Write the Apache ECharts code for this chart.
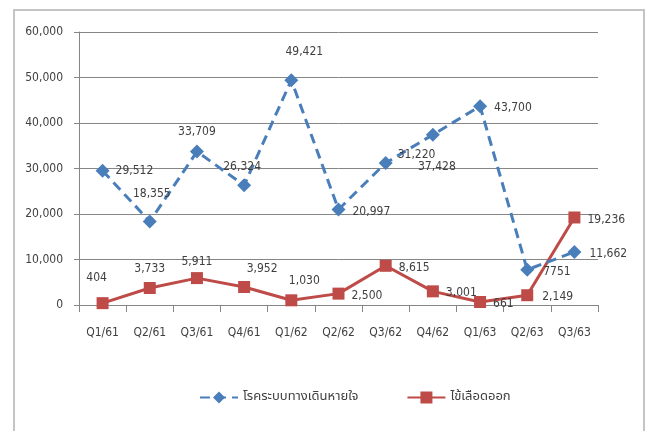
<!DOCTYPE html>
<html>
<head>
<meta charset="utf-8">
<script src="https://cdn.jsdelivr.net/npm/echarts@6/dist/echarts.min.js"></script>
<style>
    html, body { margin: 0; padding: 0; background: #fff; }
    #main { width: 649px; height: 431px; }
</style>
</head>
<body>
<div id="main"></div>
<script>
var quarters = ['Q1/61', 'Q2/61', 'Q3/61', 'Q4/61', 'Q1/62', 'Q2/62', 'Q3/62', 'Q4/62', 'Q1/63', 'Q2/63', 'Q3/63'];
var respName = 'โรคระบบทางเดินหายใจ';
var respValues = [29512, 18355, 33709, 26324, 49421, 20997, 31220, 37428, 43700, 7751, 11662];
var dengueName = 'ไข้เลือดออก';
var dengueValues = [404, 3733, 5911, 3952, 1030, 2500, 8615, 3001, 661, 2149, 19236];
var yTicks = [0, 10000, 20000, 30000, 40000, 50000, 60000];

// label placement, one per point
var respLabel = [
    {position: 'right', distance: 6},
    {position: 'top', distance: 15, offset: [2, 0]},
    {position: 'top', distance: 7},
    {position: 'top', distance: 5, offset: [-2, 0]},
    {position: 'top', distance: 15, offset: [13, 0]},
    {position: 'right', distance: 7, offset: [0, 2]},
    {position: 'right', distance: 5, offset: [0, -8]},
    {position: 'bottom', distance: 19, offset: [4, 0]},
    {position: 'right', distance: 7, offset: [0, 2]},
    {position: 'right', distance: 9, offset: [0, 2]},
    {position: 'right', distance: 8, offset: [0, 2]}
];
var dengueLabel = [
    {position: 'top', distance: 13, offset: [-6, 0]},
    {position: 'top', distance: 7},
    {position: 'top', distance: 4},
    {position: 'top', distance: 6, offset: [18, 0]},
    {position: 'top', distance: 7, offset: [13, 0]},
    {position: 'right', distance: 7, offset: [0, 2]},
    {position: 'right', distance: 7, offset: [0, 2]},
    {position: 'right', distance: 7, offset: [0, 2]},
    {position: 'right', distance: 7, offset: [0, 2]},
    {position: 'right', distance: 9, offset: [0, 2]},
    {position: 'right', distance: 7, offset: [0, 2]}
];

function fmt(v) {
    return String(v).replace(/\B(?=(\d{3})+(?!\d))/g, ',');
}

function buildData(values, labels) {
    return values.map(function (v, i) {
        var lb = {
            position: labels[i].position,
            distance: labels[i].distance,
            offset: labels[i].offset || [0, 0]
        };
        return {value: v, label: lb};
    });
}

var labelFont = {
    color: '#404040',
    fontSize: 12,
    fontFamily: 'DejaVu Sans Condensed, DejaVu Sans, sans-serif'
};

var myChart = echarts.init(document.getElementById('main'));
var option = {
    backgroundColor: '#fff',
    animation: false,
    graphic: [{
        type: 'rect',
        shape: {x: 14, y: 10, width: 630, height: 440},
        style: {fill: 'none', stroke: '#c4c4c4', lineWidth: 2},
        silent: true,
        z: -1
    }],
    grid: {
        left: 79,
        right: 51,
        top: 32,
        bottom: 126
    },
    legend: {
        bottom: 22,
        left: 194,
        itemWidth: 38,
        itemHeight: 15,
        itemGap: 48,
        textStyle: {
            color: '#404040',
            fontSize: 13,
            fontFamily: 'Noto Sans Thai, Tahoma, sans-serif'
        },
        data: [respName, dengueName]
    },
    xAxis: {
        type: 'category',
        data: quarters,
        boundaryGap: true,
        axisLine: {lineStyle: {color: '#868686', width: 1}},
        axisTick: {show: true, length: 7, lineStyle: {color: '#868686'}},
        axisLabel: {
            interval: 0,
            margin: 22,
            color: '#404040',
            fontSize: 12,
            fontFamily: 'DejaVu Sans Condensed, DejaVu Sans, sans-serif'
        }
    },
    yAxis: {
        type: 'value',
        min: yTicks[0],
        max: yTicks[yTicks.length - 1],
        interval: 10000,
        axisLine: {show: true, lineStyle: {color: '#868686', width: 1}},
        axisTick: {show: true, length: 5, lineStyle: {color: '#868686'}},
        splitLine: {lineStyle: {color: '#868686', width: 1}},
        axisLabel: {
            margin: 16,
            color: '#404040',
            fontSize: 12,
            fontFamily: 'DejaVu Sans Condensed, DejaVu Sans, sans-serif',
            formatter: function (v) {
                return fmt(v);
            }
        }
    },
    series: [{
        name: respName,
        type: 'line',
        data: buildData(respValues, respLabel),
        symbol: 'diamond',
        symbolSize: 14,
        itemStyle: {color: '#4a7ebb'},
        lineStyle: {color: '#4a7ebb', width: 3, type: [10, 6]},
        label: Object.assign({
            show: true,
            formatter: function (p) {
                return p.dataIndex == 9 ? String(p.value) : fmt(p.value);
            }
        }, labelFont),
        z: 3
    }, {
        name: dengueName,
        type: 'line',
        data: buildData(dengueValues, dengueLabel),
        symbol: 'rect',
        symbolSize: 12,
        itemStyle: {color: '#be4b48'},
        lineStyle: {color: '#be4b48', width: 3},
        label: Object.assign({
            show: true,
            formatter: function (p) {
                return fmt(p.value);
            }
        }, labelFont),
        z: 2
    }]
};
myChart.setOption(option);
</script>
</body>
</html>
